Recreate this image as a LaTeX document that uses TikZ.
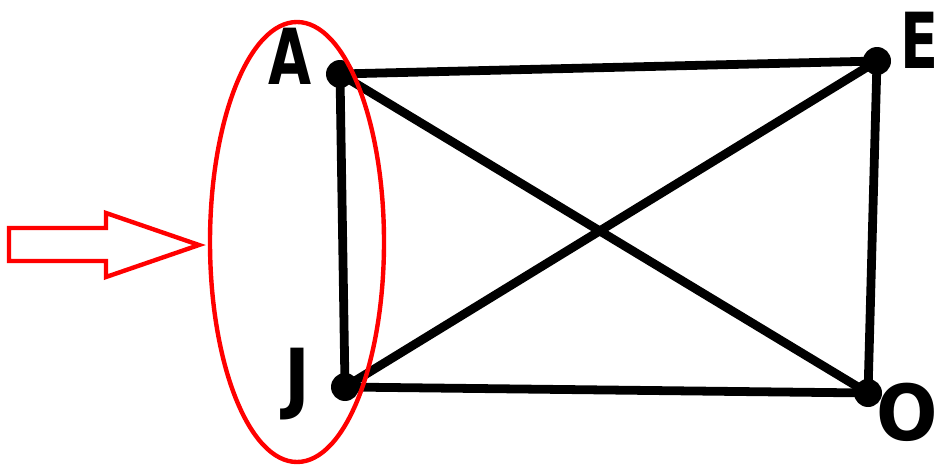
\documentclass[tikz,border=0pt]{standalone}
\usepackage{fontspec}
\setsansfont{DejaVu Sans}
\usepackage{tikz}

\begin{document}
\begin{tikzpicture}[x=0.02cm,y=-0.02cm]
    \useasboundingbox (0,0) rectangle (936,466);
    \tikzset{
        edge/.style={line width=5pt, line cap=round},
        vertex/.style={circle, fill=black, inner sep=0pt, minimum size=0.56cm},
        letter/.style={font=\fontsize{44}{44}\selectfont\sffamily\bfseries, inner sep=0pt, xscale=0.72},
        redline/.style={draw=red, line width=2.5pt, line join=miter}
    }

    \coordinate (A) at (340,74);
    \coordinate (E) at (877,61);
    \coordinate (J) at (345,387);
    \coordinate (O) at (868,393);

    \draw [edge] (A)--(E)--(O)--(J)--cycle;
    \draw [edge] (A)--(O);
    \draw [edge] (J)--(E);
    \foreach \p in {A,E,J,O}
        \node[vertex] (v\p) at (\p) {};

    \node[letter] (lA) at (290,56) {A};
    \node[letter] (lE) at (919,40) {E};
    \node[letter, xscale=1.25] (lJ) at (297,384) {J};
    \node[letter, xscale=1.3] (lO) at (907,412) {O};

    \draw [redline] (297,242) ellipse [x radius=87, y radius=220];
    \draw [redline] (9,228)--(106,228)--(106,213)--(199,245)--(106,277)--(106,261)--(9,261)--cycle;
\end{tikzpicture}
\end{document}
